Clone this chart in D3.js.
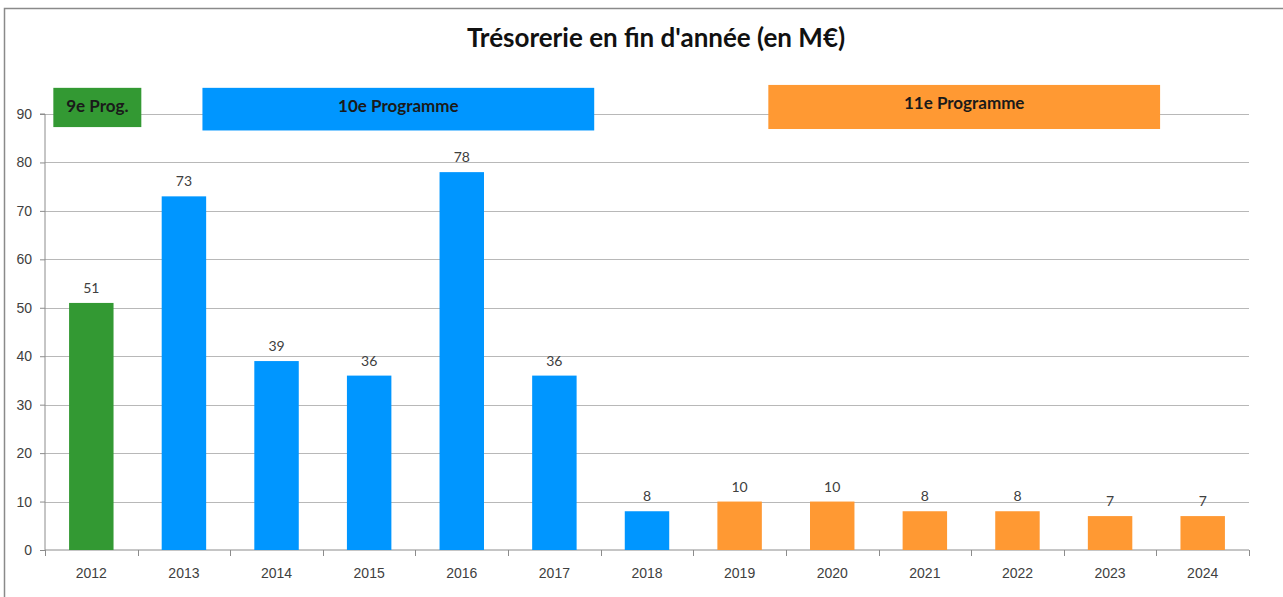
<!DOCTYPE html>
<html>
<head>
<meta charset="utf-8">
<script src="https://cdn.jsdelivr.net/npm/d3@7"></script>
<style>
	body { margin: 0; background: #fff; }
	svg { display: block; font-family: Lato, "Open Sans", sans-serif; }
	.axis text { fill: #404040; font-size: 14px; }
	.axis line, .axis path { stroke: #8c8c8c; }
</style>
</head>
<body>
<div id="chart"></div>
<script>
// data
const years = ["2012","2013","2014","2015","2016","2017","2018","2019","2020","2021","2022","2023","2024"];
const values = [51, 73, 39, 36, 78, 36, 8, 10, 10, 8, 8, 7, 7];
const programme = ["9e","10e","10e","10e","10e","10e","10e","11e","11e","11e","11e","11e","11e"];
const yTicks = [0, 10, 20, 30, 40, 50, 60, 70, 80, 90];
// programme banners: span in category units, top/bottom in value units
const bannerLabels = ["9e Prog.", "10e Programme", "11e Programme"];
const bannerKeys = ["9e", "10e", "11e"];
const bannerFrom = [0.09, 1.70, 7.81];
const bannerTo = [1.04, 5.93, 12.04];
const bannerTop = [95.4, 95.4, 96.0];
const bannerBottom = [87.3, 86.6, 86.9];

const colors = { "9e": "#339933", "10e": "#0096ff", "11e": "#ff9933" };

const width = 1283, height = 597;
const margin = { left: 45, right: 34, top: 114, bottom: 47 };

const svg = d3.select('#chart').append('svg')
	.attr('width', width)
	.attr('height', height);

// outer frame
svg.append('path')
	.attr('d', `M4.5,${height} V8.5 H${width}`)
	.attr('fill', 'none')
	.attr('stroke', '#8a8a8a')
	.attr('stroke-width', 1.5);

svg.append('text')
	.attr('x', 656)
	.attr('y', 47)
	.attr('text-anchor', 'middle')
	.attr('font-size', 26)
	.attr('font-weight', 'bold')
	.attr('fill', '#111')
	.text("Trésorerie en fin d'année (en M€)");

const xScale = d3.scaleBand()
	.domain(years)
	.range([margin.left, width - margin.right])
	.paddingInner(0.52)
	.paddingOuter(0.26);

const idxScale = d3.scaleLinear()
	.domain([0, years.length])
	.range([margin.left, width - margin.right]);

const yScale = d3.scaleLinear()
	.domain([0, 90])
	.range([height - margin.bottom, margin.top]);

// gridlines
svg.append('g')
	.selectAll('line')
	.data(yTicks.filter(d => d > 0))
	.join('line')
	.attr('x1', margin.left)
	.attr('x2', width - margin.right)
	.attr('y1', d => Math.round(yScale(d)) + 0.5)
	.attr('y2', d => Math.round(yScale(d)) + 0.5)
	.attr('stroke', '#b8b8b8')
	.attr('stroke-width', 1.2);

// y axis
svg.append('g')
	.attr('class', 'axis y')
	.attr('transform', `translate(${margin.left},0)`)
	.call(d3.axisLeft(yScale).tickValues(yTicks).tickSize(5).tickPadding(8))
	.call(g => g.select('.domain').attr('d', `M-5,${yScale(90)}H0V${yScale(0)}`));

// x axis with ticks on category boundaries
const xAxis = svg.append('g')
	.attr('class', 'axis x')
	.attr('transform', `translate(0,${yScale(0)})`)
	.call(d3.axisBottom(xScale).tickSize(0).tickPadding(18));
xAxis.select('.domain').remove();
xAxis.append('line')
	.attr('x1', margin.left).attr('x2', width - margin.right)
	.attr('stroke', '#8c8c8c');
xAxis.selectAll('.bound')
	.data(d3.range(years.length + 1))
	.join('line')
	.attr('class', 'bound')
	.attr('x1', d => Math.round(idxScale(d)) + 0.5)
	.attr('x2', d => Math.round(idxScale(d)) + 0.5)
	.attr('y1', 0)
	.attr('y2', 6)
	.attr('stroke', '#8c8c8c');

// bars
svg.append('g')
	.selectAll('rect')
	.data(years)
	.join('rect')
	.attr('x', d => xScale(d))
	.attr('width', xScale.bandwidth())
	.attr('y', (d, i) => yScale(values[i]))
	.attr('height', (d, i) => yScale(0) - yScale(values[i]))
	.attr('fill', (d, i) => colors[programme[i]]);

// value labels
svg.append('g')
	.selectAll('text')
	.data(years)
	.join('text')
	.attr('x', d => xScale(d) + xScale.bandwidth() / 2)
	.attr('y', (d, i) => yScale(values[i]) - 10)
	.attr('text-anchor', 'middle')
	.attr('font-size', 14)
	.attr('fill', '#404040')
	.text((d, i) => values[i]);

// programme banners
const banners = svg.append('g')
	.selectAll('g')
	.data(bannerLabels)
	.join('g');
banners.append('rect')
	.attr('x', (d, i) => idxScale(bannerFrom[i]))
	.attr('width', (d, i) => idxScale(bannerTo[i]) - idxScale(bannerFrom[i]))
	.attr('y', (d, i) => yScale(bannerTop[i]))
	.attr('height', (d, i) => yScale(bannerBottom[i]) - yScale(bannerTop[i]))
	.attr('fill', (d, i) => colors[bannerKeys[i]]);
banners.append('text')
	.attr('x', (d, i) => (idxScale(bannerFrom[i]) + idxScale(bannerTo[i])) / 2)
	.attr('y', (d, i) => yScale(bannerTop[i]) + 18)
	.attr('dy', '0.35em')
	.attr('text-anchor', 'middle')
	.attr('font-size', 17)
	.attr('font-weight', 'bold')
	.attr('fill', '#1a1a1a')
	.text(d => d);
</script>
</body>
</html>
